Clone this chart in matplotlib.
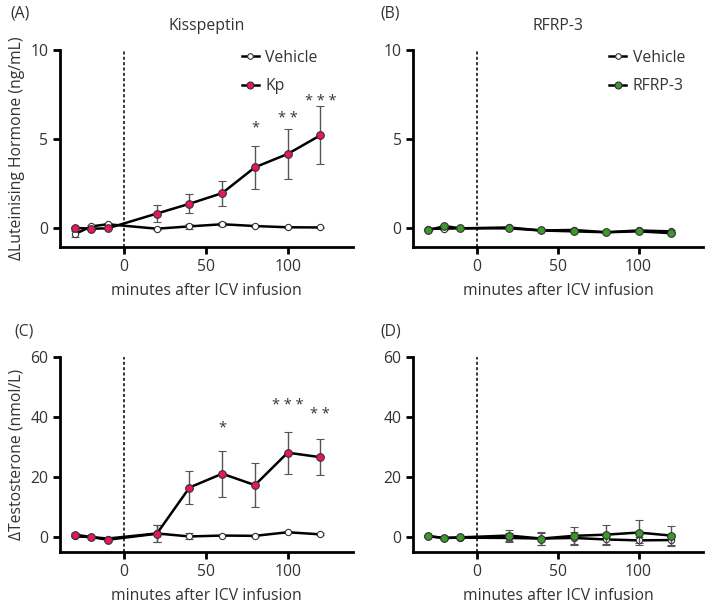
"""Four-panel time course: LH and testosterone after ICV kisspeptin / RFRP-3"""

import matplotlib.pyplot as plt
from matplotlib.lines import Line2D

plt.rcParams['font.family'] = ['Open Sans', 'DejaVu Sans']

# Time points (minutes after ICV infusion)
minutes = [-30, -20, -10, 20, 40, 60, 80, 100, 120]

# (A) LH, kisspeptin experiment
lh_veh_kp = [-0.35, 0.08, 0.2, -0.05, 0.08, 0.2, 0.1, 0.03, 0.02]
lh_veh_kp_err = [0.15, 0.05, 0.05, 0.05, 0.12, 0.1, 0.05, 0.05, 0.05]
lh_kp = [0.0, -0.05, -0.03, 0.8, 1.35, 1.95, 3.4, 4.15, 5.2]
lh_kp_err = [0.05, 0.05, 0.05, 0.48, 0.54, 0.7, 1.2, 1.38, 1.62]
lh_star_x = [80, 100, 120]
lh_star_y = [5.6, 6.15, 7.1]
lh_star_txt = ['*', '* *', '* * *']

# (B) LH, RFRP-3 experiment
lh_veh_rf = [-0.05, -0.05, -0.03, 0.02, -0.15, -0.12, -0.25, -0.15, -0.2]
lh_veh_rf_err = [0.05, 0.05, 0.05, 0.05, 0.05, 0.05, 0.05, 0.05, 0.05]
lh_rf = [-0.15, 0.1, -0.03, -0.03, -0.15, -0.2, -0.25, -0.2, -0.3]
lh_rf_err = [0.05, 0.05, 0.05, 0.05, 0.05, 0.05, 0.05, 0.05, 0.05]

# (C) Testosterone, kisspeptin experiment
t_veh_kp = [0.2, 0.0, -0.5, 1.2, 0.2, 0.5, 0.4, 1.6, 0.9]
t_veh_kp_err = [0.3, 0.3, 0.3, 2.8, 1.0, 0.3, 0.3, 0.3, 0.3]
t_kp = [0.8, 0.0, -0.9, 1.1, 16.5, 21.1, 17.3, 28.1, 26.6]
t_kp_err = [0.4, 0.4, 0.4, 2.9, 5.5, 7.7, 7.3, 7.0, 6.0]
t_star_x = [60, 100, 120]
t_star_y = [36.3, 43.8, 40.7]
t_star_txt = ['*', '* * *', '* *']

# (D) Testosterone, RFRP-3 experiment
t_veh_rf = [0.3, -0.3, -0.2, -0.3, -0.5, -0.3, -0.8, -1.1, -1.0]
t_veh_rf_err = [0.3, 0.3, 0.3, 1.5, 2.0, 2.0, 1.5, 1.0, 2.0]
t_rf = [0.3, -0.3, -0.1, 0.5, -0.5, 0.4, 0.8, 1.5, 0.5]
t_rf_err = [0.3, 0.3, 0.3, 1.8, 2.3, 3.0, 3.3, 4.2, 3.2]

PINK = '#e8175d'
GREEN = '#3a9a2a'
ERR = '#555555'
TXT = '#333333'
FS = 11.3

fig = plt.figure(figsize=(7.09, 6.08), dpi=100)
axA = fig.add_axes([0.085, 0.594, 0.413, 0.324])
axB = fig.add_axes([0.583, 0.594, 0.409, 0.324])
axC = fig.add_axes([0.085, 0.092, 0.413, 0.321])
axD = fig.add_axes([0.583, 0.092, 0.409, 0.321])


def draw(ax, veh, veh_err, trt, trt_err, color, label, ylim, yticks,
         stars=None, legend_x=None):
    ax.axvline(0, color='black', ls=(0, (2, 1.5)), lw=1.1, zorder=1)
    ax.errorbar(minutes, veh, yerr=veh_err, color='black', lw=1.8, marker='o',
                ms=4.5, mfc='white', mec='#333333', mew=0.8, ecolor=ERR,
                elinewidth=1, capsize=3, capthick=1, zorder=3)
    ax.errorbar(minutes, trt, yerr=trt_err, color='black', lw=1.8, marker='o',
                ms=5.5, mfc=color, mec='#333333', mew=0.8, ecolor=ERR,
                elinewidth=1, capsize=3, capthick=1, zorder=4)
    if stars:
        for x, y, s in zip(*stars):
            ax.text(x, y, s, ha='center', va='center', fontsize=10.5, color=TXT)
    ax.set_xlim(-39, 140)
    ax.set_ylim(*ylim)
    ax.set_xticks([0, 50, 100])
    ax.set_yticks(yticks)
    ax.spines['top'].set_visible(False)
    ax.spines['right'].set_visible(False)
    ax.spines['left'].set_bounds(ylim[0], yticks[-1])
    for s in ('left', 'bottom'):
        ax.spines[s].set_linewidth(2)
    ax.tick_params(width=2, length=5, labelsize=FS, color='black', labelcolor=TXT)
    ax.set_xlabel('minutes after ICV infusion', fontsize=FS, color=TXT, labelpad=6)
    if legend_x is not None:
        handles = [
            Line2D([], [], color='black', lw=1.8, marker='o', ms=4, mfc='white',
                   mec='#333333', mew=0.8),
            Line2D([], [], color='black', lw=1.8, marker='o', ms=5, mfc=color,
                   mec='#333333', mew=0.8),
        ]
        ax.legend(handles, ['Vehicle', label], loc='upper left',
                  bbox_to_anchor=(legend_x, 1.0), frameon=False, fontsize=FS,
                  handlelength=1.1, handletextpad=0.4, labelspacing=0.8,
                  borderaxespad=0, borderpad=0, labelcolor=TXT)


draw(axA, lh_veh_kp, lh_veh_kp_err, lh_kp, lh_kp_err, PINK, 'Kp',
     (-1.07, 10), [0, 5, 10], (lh_star_x, lh_star_y, lh_star_txt), legend_x=0.62)
draw(axB, lh_veh_rf, lh_veh_rf_err, lh_rf, lh_rf_err, GREEN, 'RFRP-3',
     (-1.07, 10), [0, 5, 10], legend_x=0.675)
draw(axC, t_veh_kp, t_veh_kp_err, t_kp, t_kp_err, PINK, 'Kp',
     (-5, 60), [0, 20, 40, 60], (t_star_x, t_star_y, t_star_txt))
draw(axD, t_veh_rf, t_veh_rf_err, t_rf, t_rf_err, GREEN, 'RFRP-3',
     (-5, 60), [0, 20, 40, 60])

axA.set_ylabel('ΔLuteinising Hormone (ng/mL)', fontsize=FS, color=TXT, labelpad=4)
axC.set_ylabel('ΔTestosterone (nmol/L)', fontsize=FS, color=TXT, labelpad=4)

axA.set_title('Kisspeptin', fontsize=FS, color=TXT, pad=14)
axB.set_title('RFRP-3', fontsize=FS, color=TXT, pad=14)

fig.text(0.014, 0.977, '(A)', fontsize=FS, color=TXT, va='center')
fig.text(0.537, 0.977, '(B)', fontsize=FS, color=TXT, va='center')
fig.text(0.020, 0.454, '(C)', fontsize=FS, color=TXT, va='center')
fig.text(0.537, 0.454, '(D)', fontsize=FS, color=TXT, va='center')

plt.savefig('out.png', dpi=100)
